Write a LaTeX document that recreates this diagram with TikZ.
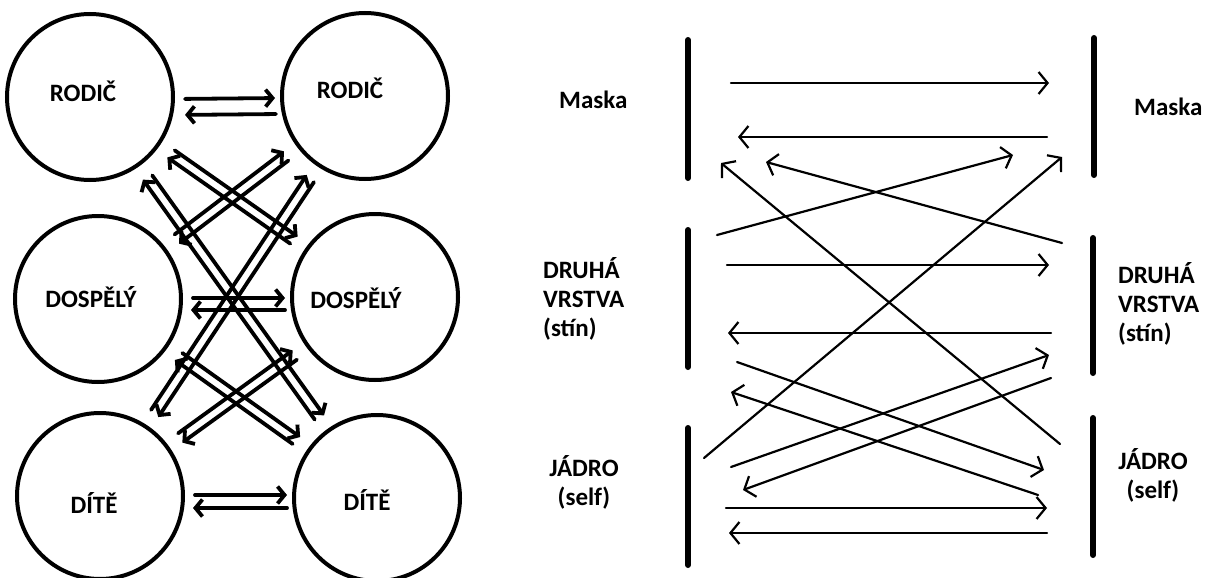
\documentclass[tikz,border=0pt]{standalone}
\usepackage{fontspec}
\setmainfont{Carlito}
\usetikzlibrary{arrows.meta, calc}

\tikzset{
  person/.style={circle, draw, line width=4pt, minimum size=166pt, inner sep=0pt},
  lbl/.style={font=\fontsize{25}{29}\selectfont\bfseries, inner sep=0pt},
  larr/.style={line width=3.8pt, line cap=round, -{Straight Barb[length=7pt, width=17pt]}},
  rarr/.style={line width=2.2pt, line cap=round, -{Straight Barb[length=9pt, width=22pt]}},
  barline/.style={line width=6pt, line cap=round},
}

% two parallel arrows between two circles, one each way
\newcommand{\twoway}[2]{%
  \draw[larr, shorten <=100pt, shorten >=98pt] ($(#1)!5pt!90:(#2)$) -- ($(#2)!5pt!-90:(#1)$);
  \draw[larr, shorten <=100pt, shorten >=98pt] ($(#2)!5pt!90:(#1)$) -- ($(#1)!5pt!-90:(#2)$);
}

\begin{document}
\begin{tikzpicture}[x=1pt, y=-1pt]
    \useasboundingbox (0,0) rectangle (1210,578);

    % Left: roles
    \node[person] (rl) at (90,97) {};
    \node[person] (rr) at (365,96) {};
    \node[person] (dl) at (98,299) {};
    \node[person] (dr) at (375,297) {};
    \node[person] (kl) at (100,496) {};
    \node[person] (kr) at (377,498) {};

    \node[lbl, anchor=base] (rlt) at (83,101) {RODIČ};
    \node[lbl, anchor=base] (rrt) at (350,99) {RODIČ};
    \node[lbl, anchor=base] (dlt) at (91,307) {DOSPĚLÝ};
    \node[lbl, anchor=base] (drt) at (356,308) {DOSPĚLÝ};
    \node[lbl, anchor=base] (klt) at (94,513) {DÍTĚ};
    \node[lbl, anchor=base] (krt) at (367,510) {DÍTĚ};

    % same level
    \draw[larr, shorten <=10pt, shorten >=5pt] ([yshift=-2pt]rl.east) -- ([yshift=-2pt]rr.west);
    \draw[larr, shorten <=4pt, shorten >=10pt] ([yshift=-18pt]rr.west) -- ([yshift=-18pt]rl.east);
    \draw[larr, shorten <=10pt, shorten >=5pt] ([yshift=1pt]dl.east) -- ([yshift=-1pt]dr.west);
    \draw[larr, shorten <=5pt, shorten >=8pt] ([yshift=-13pt]dr.west) -- ([yshift=-11pt]dl.east);
    \draw[larr, shorten <=10pt, shorten >=5pt] ([yshift=1pt]kl.east) -- ([yshift=3pt]kr.west);
    \draw[larr, shorten <=5pt, shorten >=8pt] ([yshift=-10pt]kr.west) -- ([yshift=-12pt]kl.east);

    % across levels
    \twoway{rl}{dr}
    \twoway{rl}{kr}
    \twoway{dl}{rr}
    \twoway{dl}{kr}
    \twoway{kl}{rr}
    \twoway{kl}{dr}

    % Right: layers
    \draw[barline] (688,40) -- (688,178);
    \draw[barline] (688,230) -- (688,367);
    \draw[barline] (688,428) -- (688,565);
    \draw[barline] (1094,38) -- (1094,175);
    \draw[barline] (1093,238) -- (1093,373);
    \draw[barline] (1093,418) -- (1093,555);

    \node[lbl, anchor=base west] (mlt) at (559,108) {Maska};
    \node[lbl, anchor=base west] (mrt) at (1134,115) {Maska};
    \node[lbl, anchor=west, align=left] (slt) at (543,299) {DRUHÁ\\VRSTVA\\(stín)};
    \node[lbl, anchor=west, align=left] (srt) at (1118,304) {DRUHÁ\\VRSTVA\\(stín)};
    \node[lbl, align=center] (jlt) at (584,482) {JÁDRO\\(self)};
    \node[lbl, align=center] (jrt) at (1153,475) {JÁDRO\\(self)};

    % end points
    \coordinate (m1) at (731,83);   \coordinate (m2) at (1049,83);
    \coordinate (m3) at (1047,137); \coordinate (m4) at (738,137);
    \coordinate (m5) at (721,163);  \coordinate (m6) at (766,162);
    \coordinate (m7) at (1013,155); \coordinate (m8) at (1062,157);
    \coordinate (s1) at (727,265);  \coordinate (s2) at (1049,265);
    \coordinate (s3) at (1051,333); \coordinate (s4) at (728,333);
    \coordinate (s5) at (1062,243); \coordinate (s6) at (717,235);
    \coordinate (s7) at (1049,355); \coordinate (s8) at (1051,378);
    \coordinate (s9) at (737,362);  \coordinate (s10) at (731,392);
    \coordinate (j1) at (726,508);  \coordinate (j2) at (1047,508);
    \coordinate (j3) at (1047,533); \coordinate (j4) at (729,533);
    \coordinate (j5) at (1060,444); \coordinate (j6) at (704,458);
    \coordinate (j7) at (731,467);  \coordinate (j8) at (743,490);
    \coordinate (j9) at (1044,470); \coordinate (j10) at (1038,495);

    \draw[rarr] (m1) -- (m2);
    \draw[rarr] (m3) -- (m4);
    \draw[rarr] (j5) -- (m5);
    \draw[rarr] (s5) -- (m6);
    \draw[rarr] (s6) -- (m7);
    \draw[rarr] (j6) -- (m8);
    \draw[rarr] (s1) -- (s2);
    \draw[rarr] (s3) -- (s4);
    \draw[rarr] (j7) -- (s7);
    \draw[rarr] (s8) -- (j8);
    \draw[rarr] (s9) -- (j9);
    \draw[rarr] (j10) -- (s10);
    \draw[rarr] (j1) -- (j2);
    \draw[rarr] (j3) -- (j4);
\end{tikzpicture}
\end{document}
